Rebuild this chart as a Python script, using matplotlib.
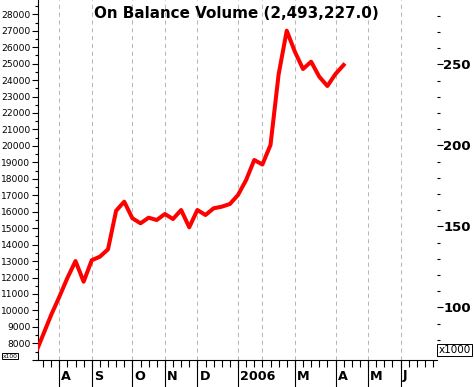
import matplotlib
matplotlib.use("Agg")
import matplotlib.pyplot as plt
from matplotlib.ticker import MultipleLocator, FixedLocator, NullFormatter, FuncFormatter
import numpy as np

# ---- data (weekly On Balance Volume, x100) ----
weeks = list(range(-1, 38))
obv = [7300, 8500, 9720, 10815, 11970, 13000, 11745, 13050, 13265, 13714,
       16061, 16608, 15600, 15295, 15635, 15495, 15860, 15556, 16103, 15052,
       16103, 15799, 16207, 16304, 16468, 17015, 17927, 19143, 18869, 20055,
       24350, 27003, 25726, 24675, 25119, 24207, 23641, 24371, 24918]

month_pos = [2, 6, 11, 15, 19, 24, 27, 31, 36, 40, 44]
month_lbl = ["A", "S", "O", "N", "D", "2006", "", "M", "A", "M", "J"]
title_text = "On Balance Volume (2,493,227.0)"

W, H = 474, 387
fig = plt.figure(figsize=(W / 100, H / 100), dpi=100)
ax_l, ax_r_px, ax_top, ax_bot = 38, 437, 0, 360
ax = fig.add_axes([ax_l / W, 1 - ax_bot / H, (ax_r_px - ax_l) / W, (ax_bot - ax_top) / H])

px_per_week = 8.125
x0 = 43
ax.set_xlim((ax_l - x0) / px_per_week, (ax_r_px - x0) / px_per_week)
ax.set_ylim(6985, 28869)

# gridlines
for m in month_pos:
    ax.axvline(m, color="#b8b8b8", lw=0.75, linestyle=(0, (4, 3.5)), zorder=0)

ax.plot(weeks, obv, color="#ff0000", lw=2.9, solid_joinstyle="round", zorder=3)

# spines
for s in ["top", "right"]:
    ax.spines[s].set_visible(False)
for s in ["left", "bottom"]:
    ax.spines[s].set_linewidth(0.8)

# left axis
ax.yaxis.set_major_locator(MultipleLocator(1000))
ax.yaxis.set_minor_locator(MultipleLocator(500))
ax.yaxis.set_major_formatter(FuncFormatter(lambda v, p: "" if v < 7500 else f"{int(v)}"))
ax.tick_params(axis="y", which="major", direction="out", length=4, width=0.8,
               labelsize=6.6, pad=1.5)
ax.tick_params(axis="y", which="minor", direction="out", length=2, width=0.8)

# bottom axis
ax.xaxis.set_major_locator(FixedLocator([m for m, l in zip(month_pos, month_lbl) if l]))
ax.xaxis.set_minor_locator(FixedLocator(list(range(0, 49))))
ax.xaxis.set_major_formatter(NullFormatter())
ax.tick_params(axis="x", which="major", direction="out", length=20, width=0.8)
ax.tick_params(axis="x", which="minor", direction="out", length=5, width=0.8)
ax.xaxis.remove_overlapping_locs = False

trans = ax.get_xaxis_transform()
for m, l in zip(month_pos, month_lbl):
    if l:
        ax.text(m + 2.0 / px_per_week, -16 / 360, l, transform=trans,
                fontsize=9.2, fontweight="bold", ha="left", va="center",
                family="DejaVu Sans")

# right axis
axr = ax.twinx()
axr.set_ylim(67.5, 289.7)
for s in ["top", "right", "left", "bottom"]:
    axr.spines[s].set_visible(False)
axr.yaxis.set_major_locator(MultipleLocator(50))
axr.yaxis.set_minor_locator(MultipleLocator(10))
axr.yaxis.set_major_formatter(FuncFormatter(lambda v, p: "" if v < 90 else f"{int(v)}"))
axr.tick_params(axis="y", which="major", direction="out", length=4, width=0.8,
                labelsize=9.5, pad=0.5)
axr.tick_params(axis="y", which="minor", direction="out", length=2.2, width=0.8)
for t in axr.get_yticklabels():
    t.set_fontweight("bold")

# multiplier boxes
fig.text(2.5 / W, 1 - 358.5 / H, "x100", fontsize=4.3, ha="left", va="bottom",
         bbox=dict(boxstyle="square,pad=0.15", fc="white", ec="black", lw=0.7))
fig.text(438.5 / W, 1 - 350 / H, "x1000", fontsize=7.5, ha="left", va="center",
         bbox=dict(boxstyle="square,pad=0.1", fc="white", ec="black", lw=0.7))

fig.text(236 / W, 1 - 14 / H, title_text, fontsize=10.9, fontweight="bold",
         ha="center", va="center", family="DejaVu Sans")

fig.savefig("out.png", dpi=100)
